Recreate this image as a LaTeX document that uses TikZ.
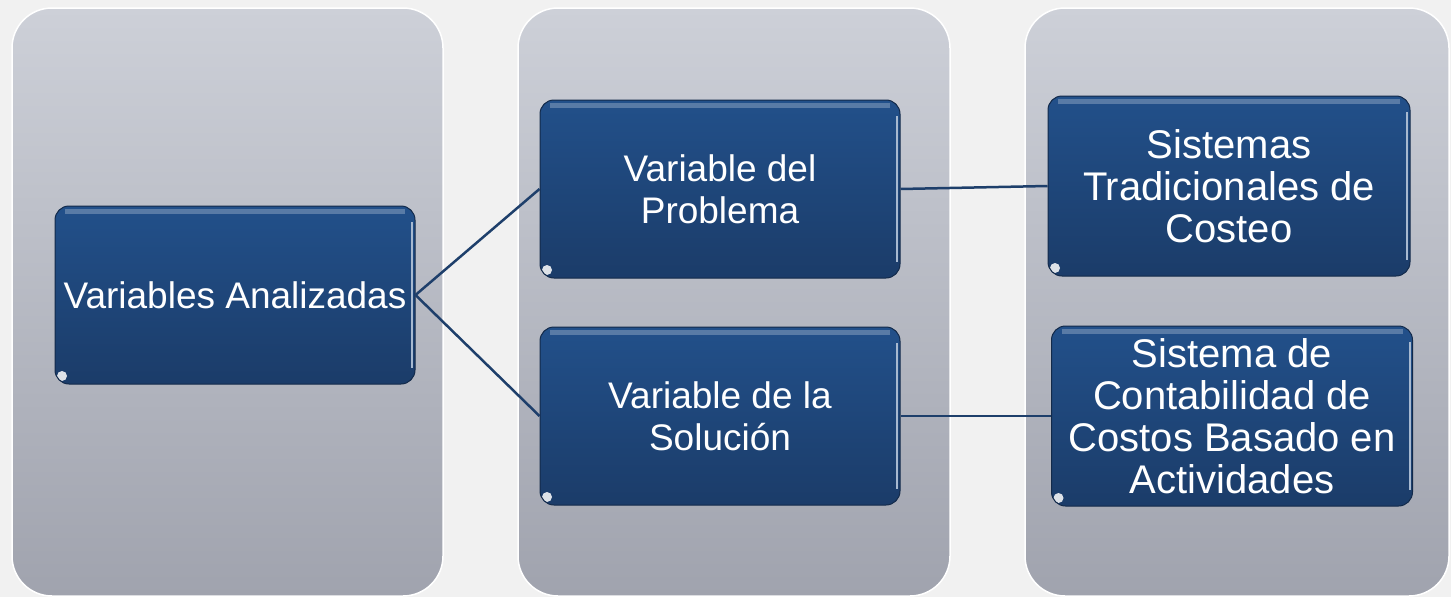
\documentclass[tikz,border=0pt]{standalone}
\usepackage{fontspec}
\setmainfont{Liberation Sans}
\definecolor{paper}{HTML}{F1F1F1}
\definecolor{coltop}{HTML}{CDD0D8}
\definecolor{colbot}{HTML}{A0A3AE}
\definecolor{boxtop}{HTML}{22508A}
\definecolor{boxbot}{HTML}{1B3C69}
\definecolor{linkblue}{HTML}{1E3F6B}
\begin{document}
\begin{tikzpicture}[x=1pt,y=-1pt,
    column/.style={top color=coltop,bottom color=colbot,draw=white,line width=1.5pt,rounded corners=40pt},
    varbox/.style={rounded corners=14pt,top color=boxtop,bottom color=boxbot,draw=boxbot!70!black,line width=1pt,
      text=white,align=center,inner sep=0pt,minimum width=360pt,minimum height=178pt,
      font=\fontsize{37}{42}\selectfont,
      path picture={
        \draw[white,opacity=0.25,line width=5pt] ([xshift=10pt,yshift=-5pt]path picture bounding box.north west) -- ([xshift=-10pt,yshift=-5pt]path picture bounding box.north east);
        \draw[boxtop!40!white,line width=2pt] ([xshift=-3pt,yshift=-16pt]path picture bounding box.north east) -- ([xshift=-3pt,yshift=16pt]path picture bounding box.south east);
        \fill[white,opacity=0.85] ([shift={(7pt,8pt)}]path picture bounding box.south west) circle (5pt);
      }},
    widebox/.style={varbox,minimum height=180pt,font=\fontsize{40}{42}\selectfont},
    link/.style={draw=linkblue,line width=2.5pt}]
  % background and columns
  \fill[paper] (0,0) rectangle (1451,597);
  \useasboundingbox (0,0) rectangle (1451,597);
  \path[column] (12,8) rectangle (443,596);
  \path[column] (518,8) rectangle (950,596);
  \path[column] (1025,8) rectangle (1449,596);
  % boxes
  \node[varbox] (va) at (235,295) {Variables Analizadas};
  \node[varbox] (vp) at (720,189) {Variable del\\Problema};
  \node[varbox] (vs) at (720,416) {Variable de la\\Solución};
  \node[widebox,minimum width=362pt] (st) at (1229,186) {Sistemas\\Tradicionales de\\Costeo};
  \node[widebox,minimum width=361pt] (sc) at (1232,416) {Sistema de\\Contabilidad de\\Costos Basado en\\Actividades};
  % connectors
  \draw[link] (va.east) -- (vp.west);
  \draw[link] (va.east) -- (vs.west);
  \draw[link] (vp.east) -- (st.west);
  \draw[link] (vs.east) -- (sc.west);
\end{tikzpicture}
\end{document}
